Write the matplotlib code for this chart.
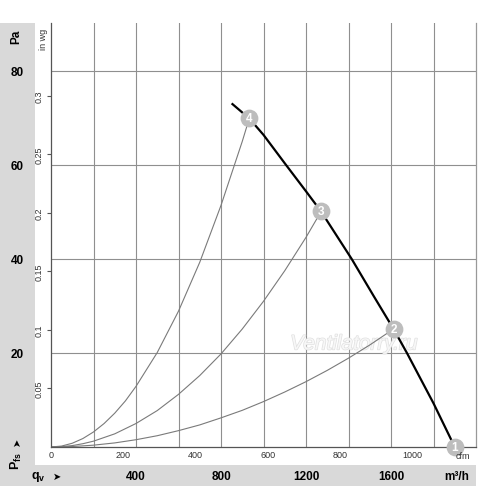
import matplotlib
matplotlib.use('Agg')
import matplotlib.pyplot as plt
from matplotlib.patches import Rectangle
import matplotlib.patheffects as pe

plt.rcParams['font.family'] = ['Liberation Sans', 'DejaVu Sans']
plt.rcParams['mathtext.fontset'] = 'custom'
plt.rcParams['mathtext.rm'] = 'Liberation Sans'
plt.rcParams['mathtext.bf'] = 'Liberation Sans:bold'

# ---- data (qv in m3/h, pressure in Pa) ----
fan_q = [850, 933, 1000, 1106, 1200, 1271, 1415, 1520, 1612, 1675, 1800, 1900]
fan_pa = [73.1, 69.9, 66.4, 60.0, 54.4, 50.1, 40.0, 32.0, 25.1, 20.0, 9.3, 0.0]

sys4_q = [0, 50, 100, 150, 200, 250, 300, 350, 400, 500, 600, 700, 800, 900, 933]
sys4_pa = [0, 0.2, 0.8, 1.8, 3.2, 5.0, 7.2, 9.8, 12.9, 20.1, 28.9, 39.3, 51.4, 65.0, 69.9]

sys3_q = [0, 50, 100, 150, 200, 300, 400, 500, 600, 700, 800, 900, 1000, 1100, 1200, 1271]
sys3_pa = [0, 0.08, 0.3, 0.7, 1.24, 2.8, 5.0, 7.75, 11.2, 15.2, 19.8, 25.1, 31.0, 37.5, 44.6, 50.1]

sys2_q = [0, 100, 200, 300, 400, 500, 600, 700, 800, 900, 1000, 1100, 1200, 1300, 1400, 1500, 1612]
sys2_pa = [0, 0.1, 0.39, 0.87, 1.55, 2.4, 3.48, 4.7, 6.2, 7.8, 9.66, 11.7, 13.9, 16.3, 18.9, 21.7, 25.1]

op_q = [1900, 1612, 1271, 933]
op_pa = [0.0, 25.1, 50.1, 69.9]
op_labels = ['1', '2', '3', '4']

m3h_ticks = [400, 800, 1200, 1600]
pa_ticks = [20, 40, 60, 80]
inwg_ticks = [0.05, 0.1, 0.15, 0.2, 0.25, 0.3]
inwg_labels = ['0.05', '0.1', '0.15', '0.2', '0.25', '0.3']
cfm_ticks = [0, 200, 400, 600, 800, 1000]
cfm_labels = ['0', '200', '400', '600', '800', '1000']
grid_q = [200, 400, 600, 800, 1000, 1200, 1400, 1600, 1800]
grid_pa = [20, 40, 60, 80]

PA_PER_INWG = 249.089
M3H_PER_CFM = 1.699

W, H = 500, 489
fig = plt.figure(figsize=(W / 100, H / 100), dpi=100)
fig.patch.set_facecolor('white')

def fx(px):
    return px / W

def fy(py):
    return 1 - py / H

band = '#d9d9d9'
fig.add_artist(Rectangle((0, fy(466)), fx(35), fy(24) - fy(466), transform=fig.transFigure,
                         facecolor=band, edgecolor='none', zorder=-1))
fig.add_artist(Rectangle((0, fy(487)), fx(476), fy(466) - fy(487), transform=fig.transFigure,
                         facecolor=band, edgecolor='none', zorder=-1))

ax = fig.add_axes([fx(51), fy(448), fx(476) - fx(51), fy(24) - fy(448)])
ax.set_xlim(0, 2000)
ax.set_ylim(0, 90.2)

gridc = '#8f8f8f'
for q in grid_q:
    ax.axvline(q, color=gridc, lw=0.8, zorder=1)
for p in grid_pa:
    ax.axhline(p, color=gridc, lw=0.8, zorder=1)

ax.spines['top'].set_visible(False)
ax.spines['left'].set_color('#555555')
ax.spines['bottom'].set_color('#555555')
ax.spines['right'].set_color('#999999')
for s in ax.spines.values():
    s.set_linewidth(0.9)

# watermark
ax.text(0.713, 0.243, 'Ventilatorry.ru', transform=ax.transAxes, ha='center', va='center',
        fontsize=15, fontstyle='italic', color='#f7f7f7', zorder=1.5,
        path_effects=[pe.Stroke(linewidth=1.0, foreground='#e0e0e0'), pe.Normal()])

linec = '#7a7a7a'
ax.plot(sys4_q, sys4_pa, color=linec, lw=0.8, zorder=2)
ax.plot(sys3_q, sys3_pa, color=linec, lw=0.8, zorder=2)
ax.plot(sys2_q, sys2_pa, color=linec, lw=0.8, zorder=2)
ax.plot(fan_q, fan_pa, color='black', lw=1.6, zorder=3, solid_capstyle='butt')

ax.plot(op_q, op_pa, 'o', ms=12.8, color='#bdbdbd', mec='none', zorder=5, clip_on=False)
for q, p, lab in zip(op_q, op_pa, op_labels):
    ax.text(q, p, lab, ha='center', va='center', color='white', fontsize=8.5,
            fontweight='bold', zorder=6, clip_on=False)

# main axes: m3/h and Pa (in grey bands)
ax.set_xticks(m3h_ticks)
ax.set_xticklabels([str(v) for v in m3h_ticks], fontsize=8.5, fontweight='bold')
ax.tick_params(axis='x', length=0, pad=16.5)
ax.set_yticks(pa_ticks)
ax.set_yticklabels([str(v) for v in pa_ticks], fontsize=8.5, fontweight='bold')
ax.tick_params(axis='y', length=0, pad=19.5)

# secondary axes: cfm and in wg
secx = ax.secondary_xaxis('bottom', functions=(lambda q: q / M3H_PER_CFM, lambda c: c * M3H_PER_CFM))
secx.set_xticks(cfm_ticks)
secx.set_xticklabels(cfm_labels, fontsize=6.5, color='#333333')
secx.tick_params(axis='x', length=0, pad=2.5)
secx.spines['bottom'].set_visible(False)

secy = ax.secondary_yaxis('left', functions=(lambda p: p / PA_PER_INWG, lambda w: w * PA_PER_INWG))
secy.set_yticks(inwg_ticks)
secy.set_yticklabels(inwg_labels, fontsize=6.5, rotation=90, color='#333333', va='center')
secy.tick_params(axis='y', length=3, width=0.8, color='#555555', pad=2)
secy.spines['left'].set_visible(False)

# axis captions
fig.text(fx(16), fy(37), 'Pa', rotation=90, ha='center', va='center', fontsize=8.5, fontweight='bold')
fig.text(fx(43), fy(39), 'in wg', rotation=90, ha='center', va='center', fontsize=6.5, color='#333333')
fig.text(fx(16.5), fy(442), '\u27a4', rotation=90, ha='center', va='center', fontsize=7,
         family='DejaVu Sans')
fig.text(fx(16.5), fy(461), r'$\mathbf{P}_{\mathbf{fs}}$', rotation=90, ha='center', va='center',
         fontsize=9)
fig.text(fx(38), fy(477), r'$\mathbf{q}_{\mathbf{v}}$', ha='center', va='center', fontsize=9)
fig.text(fx(57), fy(477), '\u27a4', ha='center', va='center', fontsize=7, family='DejaVu Sans')
fig.text(fx(457), fy(477), 'm\u00b3/h', ha='center', va='center', fontsize=8.5, fontweight='bold')
fig.text(fx(463), fy(457), 'cfm', ha='center', va='center', fontsize=6.5, color='#333333')

fig.savefig('out.png', dpi=100)
